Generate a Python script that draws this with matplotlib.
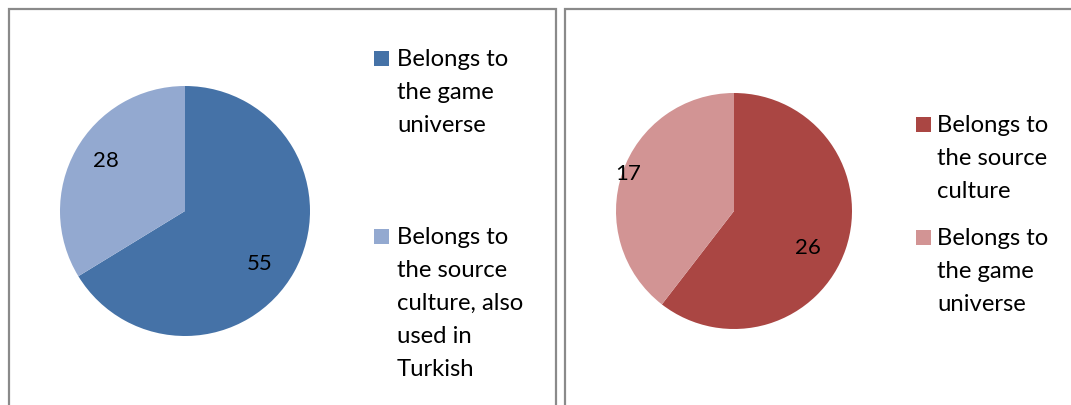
import matplotlib
matplotlib.use("Agg")
import matplotlib.pyplot as plt
from matplotlib.patches import Rectangle

# Data
left_labels = ["Belongs to the game universe",
               "Belongs to the source culture, also used in Turkish"]
left_values = [55, 28]
left_colors = ["#4572A7", "#93A9D0"]

right_labels = ["Belongs to the source culture",
                "Belongs to the game universe"]
right_values = [26, 17]
right_colors = ["#AA4643", "#D29494"]

left_legend_text = ["Belongs to\nthe game\nuniverse",
                    "Belongs to\nthe source\nculture, also\nused in\nTurkish"]
right_legend_text = ["Belongs to\nthe source\nculture",
                     "Belongs to\nthe game\nuniverse"]

FONT = ["Lato", "DejaVu Sans"]
plt.rcParams["font.family"] = FONT

W, H = 1071, 405
fig = plt.figure(figsize=(W / 100, H / 100), dpi=100)
fig.patch.set_facecolor("white")


def px_axes(x0, y0, w, h):
    """Axes placed by pixel box (top-left origin)."""
    return fig.add_axes([x0 / W, 1 - (y0 + h) / H, w / W, h / H])


# Panel frames
for (x0, x1) in [(8.5, 555.5), (564.5, 1080)]:
    fig.patches.append(Rectangle((x0 / W, -0.1), (x1 - x0) / W, 1.1 - 9.5 / H,
                                 transform=fig.transFigure, fill=False,
                                 edgecolor="#8a8a8a", linewidth=1.6))


def draw_pie(box, values, colors, label_pos):
    ax = px_axes(*box)
    ax.pie(values, colors=colors, startangle=90, counterclock=False,
           radius=1.0, wedgeprops=dict(linewidth=0))
    ax.set_xlim(-1, 1)
    ax.set_ylim(-1, 1)
    ax.set_aspect("equal")
    ax.axis("off")
    for v, (px, py) in zip(values, label_pos):
        ax.text(px, py, str(v), ha="center", va="center", fontsize=16,
                color="black")
    return ax


draw_pie((60, 86, 250, 250), left_values, left_colors,
         [(0.60, -0.42), (-0.63, 0.40)])
draw_pie((616, 93, 236, 236), right_values, right_colors,
         [(0.63, -0.31), (-0.90, 0.31)])


def draw_legend(sq_x, text_x, tops, texts, colors):
    for top, txt, c in zip(tops, texts, colors):
        fig.patches.append(Rectangle((sq_x / W, 1 - (top + 15) / H), 15 / W, 15 / H,
                                     transform=fig.transFigure, facecolor=c,
                                     edgecolor="none"))
        fig.text(text_x / W, 1 - (top - 2) / H, txt, ha="left", va="top",
                 fontsize=17.2, linespacing=1.70, color="black")


draw_legend(374, 397, [51, 229], left_legend_text, left_colors)
draw_legend(916, 937, [117, 230], right_legend_text, right_colors)

fig.savefig("out.png", dpi=100, facecolor="white")
